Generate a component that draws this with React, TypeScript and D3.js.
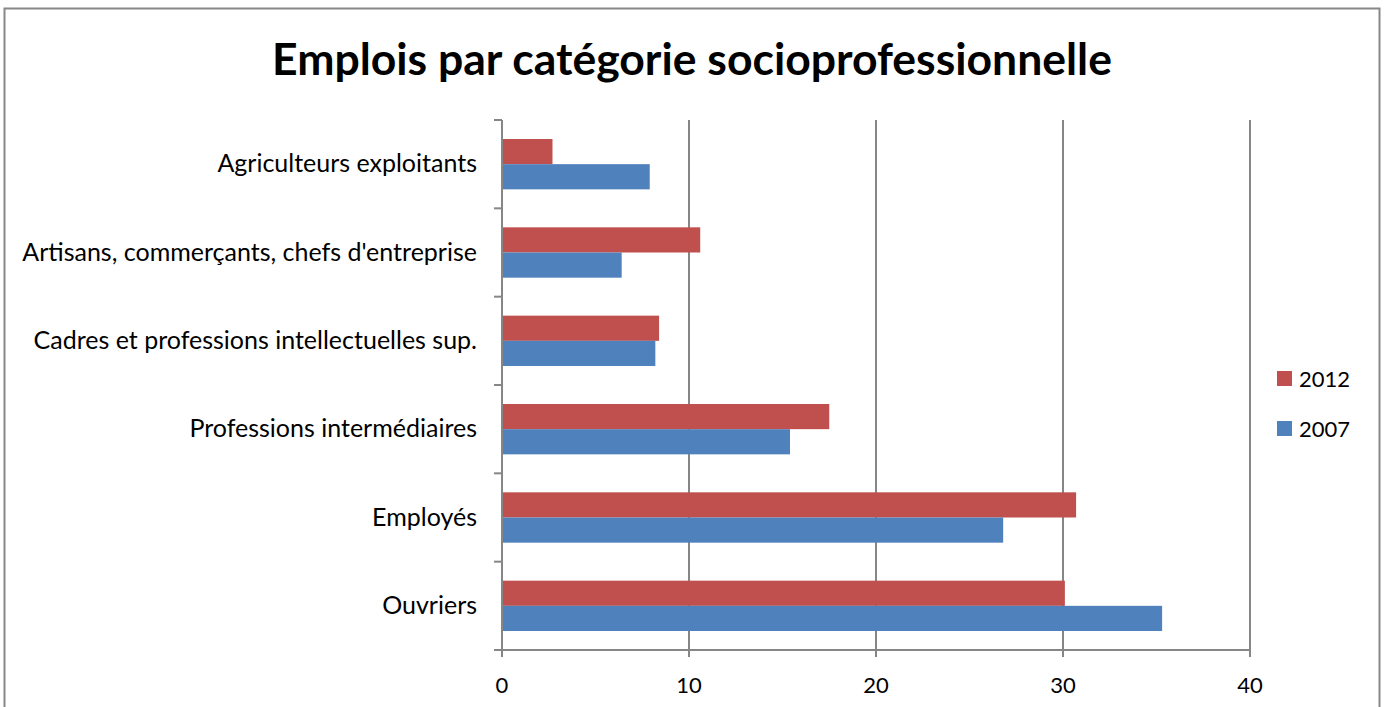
import React, { useEffect, useRef } from 'react';
import * as d3 from 'd3';

const categories = [
  'Agriculteurs exploitants',
  "Artisans, commerçants, chefs d'entreprise",
  'Cadres et professions intellectuelles sup.',
  'Professions intermédiaires',
  'Employés',
  'Ouvriers',
];
const seriesNames = ['2012', '2007'];
const values2012 = [2.7, 10.6, 8.4, 17.5, 30.7, 30.1];
const values2007 = [7.9, 6.4, 8.2, 15.4, 26.8, 35.3];
const xTicks = [0, 10, 20, 30, 40];
const colors = ['#C0504D', '#4F81BD'];

const App: React.FC = () => {
  const svgRef = useRef<SVGSVGElement>(null);

  useEffect(() => {
    if (!svgRef.current) return;
    const svg = d3.select(svgRef.current);
    svg.selectAll('*').remove();

    const font = "Lato, sans-serif";
    const left = 502, right = 1250, top = 120, bottom = 650;

    // outer frame
    svg.append('rect').attr('x', 4.5).attr('y', 8.5).attr('width', 1375).attr('height', 720)
      .attr('fill', '#fff').attr('stroke', '#888').attr('stroke-width', 2);

    svg.append('text').attr('x', 692).attr('y', 75).attr('text-anchor', 'middle')
      .attr('font-family', font).attr('font-weight', 'bold').attr('font-size', '44.5px')
      .attr('fill', '#000').text('Emplois par catégorie socioprofessionnelle');

    const x = d3.scaleLinear().domain([0, 40]).range([left, right]);
    const y = d3.scaleBand<string>().domain(categories).range([top, bottom]).paddingInner(0.43).paddingOuter(0.215);
    const sub = d3.scaleBand<string>().domain(seriesNames).range([0, y.bandwidth()]);

    // gridlines
    svg.append('g').selectAll('line').data(xTicks.slice(1)).enter().append('line')
      .attr('x1', (d: number) => x(d)).attr('x2', (d: number) => x(d))
      .attr('y1', top).attr('y2', bottom)
      .attr('stroke', '#868686').attr('stroke-width', 2);

    const data = [values2012, values2007];
    data.forEach((vals, si) => {
      svg.append('g').selectAll('rect').data(vals).enter().append('rect')
        .attr('x', x(0))
        .attr('y', (_d: number, i: number) => (y(categories[i]) as number) + (sub(seriesNames[si]) as number))
        .attr('width', (d: number) => x(d) - x(0))
        .attr('height', sub.bandwidth())
        .attr('fill', colors[si]);
    });

    // axes
    const axisColor = '#868686';
    svg.append('line').attr('x1', left).attr('x2', left).attr('y1', top).attr('y2', bottom + 7)
      .attr('stroke', axisColor).attr('stroke-width', 2);
    svg.append('line').attr('x1', left - 8).attr('x2', right).attr('y1', bottom).attr('y2', bottom)
      .attr('stroke', axisColor).attr('stroke-width', 2);
    const step = (bottom - top) / categories.length;
    d3.range(categories.length + 1).forEach((i) => {
      svg.append('line').attr('x1', left - 8).attr('x2', left).attr('y1', top + i * step).attr('y2', top + i * step)
        .attr('stroke', axisColor).attr('stroke-width', 2);
    });
    xTicks.forEach((t) => {
      svg.append('line').attr('x1', x(t)).attr('x2', x(t)).attr('y1', bottom).attr('y2', bottom + 7)
        .attr('stroke', axisColor).attr('stroke-width', 2);
      svg.append('text').attr('x', x(t)).attr('y', 693).attr('text-anchor', 'middle')
        .attr('font-family', font).attr('font-size', '22px').attr('fill', '#000').text(String(t));
    });

    // category labels
    svg.append('g').selectAll('text').data(categories).enter().append('text')
      .attr('x', 477)
      .attr('y', (d: string) => (y(d) as number) + y.bandwidth() / 2 + 8)
      .attr('text-anchor', 'end')
      .attr('font-family', font).attr('font-size', '25px').attr('fill', '#000')
      .text((d: string) => d);

    // legend
    seriesNames.forEach((s, i) => {
      const ly = 371 + i * 50;
      svg.append('rect').attr('x', 1277).attr('y', ly).attr('width', 15).attr('height', 15).attr('fill', colors[i]);
      svg.append('text').attr('x', 1299).attr('y', ly + 16).attr('font-family', font).attr('font-size', '22px')
        .attr('fill', '#000').text(s);
    });
  }, []);

  return <svg ref={svgRef} width={1384} height={707} style={{ position: 'absolute', left: 0, top: 0 }} />;
};

export default App;
